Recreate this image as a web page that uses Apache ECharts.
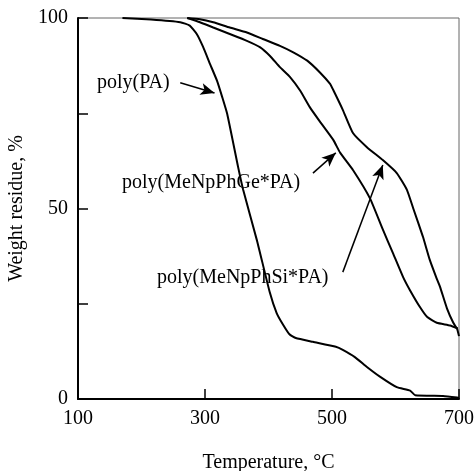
<!DOCTYPE html>
<html>
<head>
<meta charset="utf-8">
<script src="https://cdn.jsdelivr.net/npm/echarts@6/dist/echarts.min.js"></script>
<style>
  html, body { margin: 0; padding: 0; background: #fff; }
  #chart { width: 476px; height: 471px; }
</style>
</head>
<body>
<div id="chart"></div>
<script>
// TGA curves, [temperature °C, weight residue %]
var polyPA = [
  [170, 100], [215, 99.6], [261, 98.9], [276, 98], [287, 95.8], [297, 92.4],
  [308, 87.9], [319, 83.5], [327, 79.3], [335, 74.8], [352, 61], [360, 55],
  [382, 41.5], [402, 28], [413, 22.5], [423, 19.5], [433, 17], [443, 16],
  [470, 15], [506, 13.7], [517, 12.9], [536, 11], [555, 8.4], [576, 5.8],
  [602, 3.1], [623, 2.2], [631, 1.0], [675, 0.8], [697, 0.4], [700, 0.3]
];
var polyGe = [
  [272, 100], [292, 98.9], [313, 97.5], [339, 95.8], [366, 94], [387, 92.3],
  [402, 90.1], [418, 87.1], [434, 84.5], [450, 80.9], [465, 76.6], [481, 72.8],
  [502, 68], [513, 64.6], [533, 60.1], [560, 52.6], [580, 44.5], [596, 38.3],
  [612, 32], [623, 28.5], [639, 24], [650, 21.5], [665, 20], [686, 19.3],
  [698, 18.5]
];
var polySi = [
  [272, 100], [292, 99.7], [313, 98.9], [339, 97.5], [366, 96.2], [391, 94.5],
  [418, 92.7], [439, 91], [461, 88.8], [481, 85.7], [497, 82.7], [502, 81.1],
  [517, 75.9], [533, 69.8], [555, 66.1], [580, 62.7], [602, 59.3], [618, 54.9],
  [628, 50], [643, 42.7], [654, 36.5], [664, 32], [670, 29.5], [681, 23.8],
  [691, 20], [697, 18.4], [700, 16.5]
];
var yLabels = [0, 50, 100];

// annotation arrows: [from, to] in data coords
var arrowPA = [[261, 83], [315, 80.3]];
var arrowGe = [[470, 59.3], [506, 64.6]];
var arrowSi = [[517, 33.3], [580, 61.4]];

var chart = echarts.init(document.getElementById('chart'));
var font = '"Liberation Serif", "Times New Roman", serif';

function arrow(pair) {
  return [
    { coord: pair[0], symbol: 'none' },
    { coord: pair[1], symbol: 'arrow', symbolSize: [9, 14] }
  ];
}

function curve(name, data, marks) {
  var s = {
    name: name,
    type: 'line',
    data: data,
    showSymbol: false,
    smooth: 0.15,
    lineStyle: { color: '#000', width: 2 },
    animation: false
  };
  if (marks) {
    s.markLine = {
      silent: true,
      animation: false,
      label: { show: false },
      lineStyle: { color: '#000', width: 1.5, type: 'solid' },
      symbol: ['none', 'arrow'],
      data: marks.map(arrow)
    };
  }
  return s;
}

var option = {
  backgroundColor: '#fff',
  animation: false,
  grid: {
    left: 78, right: 17, top: 18, bottom: 72,
    containLabel: false,
    outerBoundsMode: 'none',
    show: true, borderColor: '#666', borderWidth: 1
  },
  xAxis: {
    type: 'value',
    min: 100, max: 700, interval: 200,
    name: 'Temperature, °C',
    nameLocation: 'middle',
    nameGap: 54,
    nameTextStyle: { color: '#000', fontFamily: font, fontSize: 20 },
    axisLine: { lineStyle: { color: '#000', width: 2 } },
    axisTick: { inside: true, length: 10, lineStyle: { color: '#000', width: 1.5 } },
    axisLabel: { color: '#000', fontFamily: font, fontSize: 20, margin: 10 },
    splitLine: { show: false }
  },
  yAxis: {
    type: 'value',
    min: 0, max: 100, interval: 25,
    name: 'Weight residue, %',
    nameLocation: 'middle',
    nameGap: 46,
    nameTextStyle: { color: '#000', fontFamily: font, fontSize: 20 },
    axisLine: { show: true, lineStyle: { color: '#000', width: 2 } },
    axisTick: { show: true, inside: true, length: 10, lineStyle: { color: '#000', width: 1.5 } },
    axisLabel: {
      color: '#000', fontFamily: font, fontSize: 20, margin: 10,
      formatter: function (v) { return yLabels.indexOf(v) >= 0 ? String(v) : ''; }
    },
    splitLine: { show: false }
  },
  series: [
    curve('poly(PA)', polyPA, [arrowPA]),
    curve('poly(MeNpPhGe*PA)', polyGe, [arrowGe]),
    curve('poly(MeNpPhSi*PA)', polySi, [arrowSi])
  ],
  graphic: [
    { type: 'text', left: 97, top: 73,
      style: { text: 'poly(PA)', font: '20px ' + font, fill: '#000' } },
    { type: 'text', left: 122, top: 173,
      style: { text: 'poly(MeNpPhGe*PA)', font: '20px ' + font, fill: '#000' } },
    { type: 'text', left: 157, top: 268,
      style: { text: 'poly(MeNpPhSi*PA)', font: '20px ' + font, fill: '#000' } }
  ]
};

chart.setOption(option);
</script>
</body>
</html>
